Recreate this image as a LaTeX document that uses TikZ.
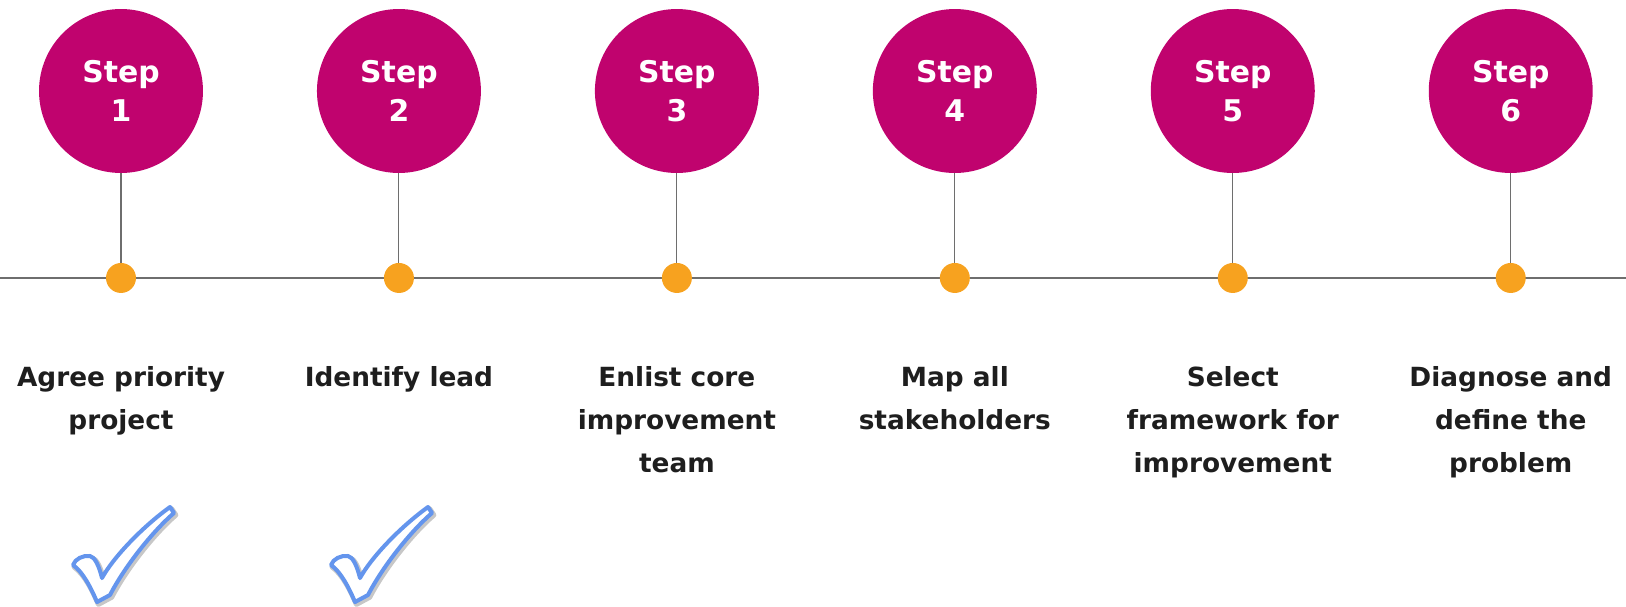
\documentclass[tikz,border=0pt]{standalone}
\usepackage{fontspec}
\setmainfont{DejaVu Sans}
\usetikzlibrary{positioning}
\definecolor{stepMagenta}{RGB}{192,3,110}
\definecolor{dotOrange}{RGB}{247,162,31}
\definecolor{railGray}{RGB}{110,110,110}
\definecolor{tickBlue}{RGB}{100,149,237}
\definecolor{labelInk}{RGB}{30,30,30}

% outline of a hand-drawn check mark, origin at its top left
\newcommand{\tickshape}{(0,59) .. controls (2,53) and (10,49) .. (17,50)
  .. controls (22,51) and (26,60) .. (29,72)
  .. controls (40,52) and (68,22) .. (97,1) -- (101,7)
  .. controls (80,25) and (52,60) .. (37,89) -- (24,96)
  .. controls (18,82) and (10,66) .. (0,59) -- cycle}

\tikzset{
  tickmark/.pic={
    \draw[black, opacity=.22, line width=3.2pt, line join=round, shift={(1.5,2)}] \tickshape;
    \draw[tickBlue, fill=white, line width=2.3pt, line join=round] \tickshape;
  }
}

\begin{document}
\begin{tikzpicture}[
    x=0.02cm, y=-0.02cm,
    node distance=1.8cm and 2.28cm,
    stepdisc/.style={circle, fill=stepMagenta, minimum size=3.28cm, inner sep=0pt, outer sep=0pt, text=white, align=center, font=\fontsize{17}{22}\selectfont\bfseries},
    pin/.style={circle, fill=dotOrange, minimum size=0.6cm, inner sep=0pt, outer sep=0pt},
    caption/.style={align=center, inner sep=0pt, text=labelInk, font=\fontsize{15}{24.5}\selectfont\bfseries},
    stem/.style={draw=railGray, line width=0.6pt},
    rail/.style={draw=railGray, line width=0.8pt}
]
\useasboundingbox (0,0) rectangle (1626,606);
\coordinate (railW) at (0,278);
\coordinate (railE) at (1626,278);
\draw[rail] (railW) -- (railE);

\node[stepdisc] (s1) at (121,91) {Step\\1};
\node[stepdisc, right=of s1] (s2) {Step\\2};
\node[stepdisc, right=of s2] (s3) {Step\\3};
\node[stepdisc, right=of s3] (s4) {Step\\4};
\node[stepdisc, right=of s4] (s5) {Step\\5};
\node[stepdisc, right=of s5] (s6) {Step\\6};

\node[pin, below=of s1] (d1) {};
\node[pin, below=of s2] (d2) {};
\node[pin, below=of s3] (d3) {};
\node[pin, below=of s4] (d4) {};
\node[pin, below=of s5] (d5) {};
\node[pin, below=of s6] (d6) {};

\node[caption, below=1.46cm of d1] (c1) {Agree priority\\project};
\node[caption, below=1.46cm of d2] (c2) {Identify lead};
\node[caption, below=1.46cm of d3] (c3) {Enlist core\\improvement\\team};
\node[caption, below=1.46cm of d4] (c4) {Map all\\stakeholders};
\node[caption, below=1.46cm of d5] (c5) {Select\\framework for\\improvement};
\node[caption, below=1.46cm of d6] (c6) {Diagnose and\\define the\\problem};

\draw[stem] (s1) -- (d1);
\draw[stem] (s2) -- (d2);
\draw[stem] (s3) -- (d3);
\draw[stem] (s4) -- (d4);
\draw[stem] (s5) -- (d5);
\draw[stem] (s6) -- (d6);

\pic at (73,506) {tickmark};
\pic at (331,506) {tickmark};
\end{tikzpicture}
\end{document}
